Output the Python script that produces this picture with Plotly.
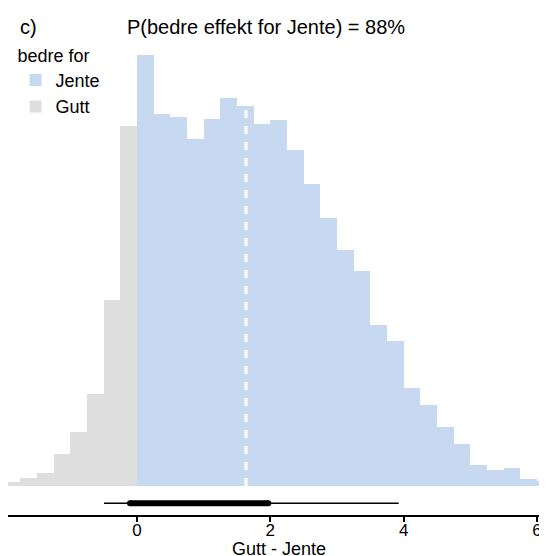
import plotly.graph_objects as go

# Histogram bins (left edges, width 0.25) and heights
bin_width = 0.25
gutt_left = [-2.0, -1.75, -1.5, -1.25, -1.0, -0.75, -0.5, -0.25]
gutt_counts = [4.3, 8.3, 12.7, 31.7, 54.3, 92, 186, 360]
jente_left = [0.0, 0.25, 0.5, 0.75, 1.0, 1.25, 1.5, 1.75, 2.0, 2.25, 2.5, 2.75,
              3.0, 3.25, 3.5, 3.75, 4.0, 4.25, 4.5, 4.75, 5.0, 5.25, 5.5, 5.75, 6.0]
jente_counts = [431, 372, 369, 347, 367, 388, 380, 362, 366, 336, 302, 268,
                236, 215, 161, 145, 98, 81, 59, 42, 21, 16, 18, 7, 5]

median_x = 1.635
median_height = 378
interval_66 = [-0.105, 1.97]
interval_95 = [-0.495, 3.925]
x_ticks = [0, 2, 4, 6]

blue = "#C6D9F0"
gray = "#DEDEDE"
font = "Arial, Liberation Sans, Helvetica, sans-serif"

fig = go.Figure()
fig.add_trace(go.Bar(
    x=[l + bin_width / 2 for l in jente_left], y=jente_counts, width=bin_width,
    marker=dict(color=blue, line=dict(width=0)), name="Jente"))
fig.add_trace(go.Bar(
    x=[l + bin_width / 2 for l in gutt_left], y=gutt_counts, width=bin_width,
    marker=dict(color=gray, line=dict(width=0)), name="Gutt"))

# median dashed white line
fig.add_trace(go.Scatter(
    x=[median_x, median_x], y=[0, median_height], mode="lines",
    line=dict(color="white", width=3, dash="8px,8px"), showlegend=False,
    hoverinfo="skip"))

# interval lines
y_int = -17.3
fig.add_trace(go.Scatter(
    x=interval_95, y=[y_int, y_int], mode="lines",
    line=dict(color="black", width=1.5), showlegend=False, hoverinfo="skip"))
fig.add_trace(go.Scatter(
    x=interval_66, y=[y_int, y_int], mode="lines+markers",
    line=dict(color="black", width=6),
    marker=dict(color="black", size=6, symbol="circle"),
    showlegend=False, hoverinfo="skip"))

fig.update_layout(
    width=539, height=548,
    margin=dict(l=0, r=0, t=0, b=41, autoexpand=False),
    plot_bgcolor="white", paper_bgcolor="white",
    barmode="overlay", bargap=0,
    font=dict(family=font, size=17, color="black"),
    xaxis=dict(range=[-1.935, 6.15], tickvals=x_ticks, automargin=False,
               ticks="outside", ticklen=5, tickwidth=1.5, tickcolor="black",
               ticklabelstandoff=-6,
               showline=True, linecolor="black", linewidth=1.5,
               showgrid=False, zeroline=False,
               tickfont=dict(size=17, family=font)),
    yaxis=dict(range=[-29, 478], visible=False, showgrid=False, zeroline=False,
               automargin=False),
    legend=dict(x=0.014, y=0.94, xanchor="left", yanchor="top",
                title=dict(text="bedre for", font=dict(size=18, family=font)),
                font=dict(size=18, family=font), bgcolor="rgba(0,0,0,0)",
                traceorder="normal", tracegroupgap=0, itemwidth=30),
    showlegend=True,
)

fig.add_annotation(text="Gutt - Jente", xref="paper", yref="paper",
                   x=(279 - 8) / 539, y=0, xanchor="center", yanchor="top",
                   yshift=-22, showarrow=False, font=dict(size=18, family=font))
fig.add_annotation(text="c)", xref="paper", yref="paper", x=(18 - 8) / 539, y=1,
                   xanchor="left", yanchor="top", yshift=-6, showarrow=False,
                   font=dict(size=20, family=font))
fig.add_annotation(text="P(bedre effekt for Jente) = 88%", xref="paper", yref="paper",
                   x=(266 - 8) / 539, y=1, xanchor="center", yanchor="top",
                   yshift=-6, showarrow=False, font=dict(size=20, family=font))
fig.add_annotation(text="ATT effekt", xref="paper", yref="paper",
                   x=(274 - 8) / 539, y=1, xanchor="center", yanchor="bottom",
                   yshift=-5, showarrow=False, font=dict(size=20, family=font))

fig.write_html("out.html")
